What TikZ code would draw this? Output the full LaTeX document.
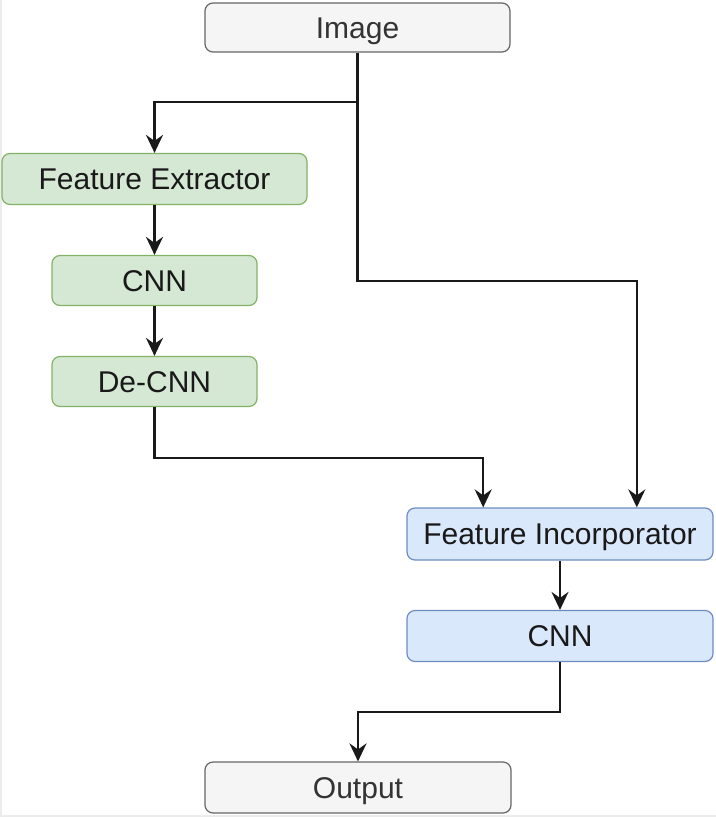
\documentclass[tikz,border=0pt]{standalone}
\usepackage{fontspec}
\setmainfont{Liberation Sans}
\usetikzlibrary{arrows.meta,calc}
\definecolor{grayfill}{HTML}{F5F5F5}
\definecolor{graydraw}{HTML}{666666}
\definecolor{greenfill}{HTML}{D5E8D4}
\definecolor{greendraw}{HTML}{82B366}
\definecolor{bluefill}{HTML}{DAE8FC}
\definecolor{bluedraw}{HTML}{6C8EBF}
\definecolor{txtgray}{HTML}{333333}
\begin{document}
\begin{tikzpicture}[x=0.5pt,y=-0.5pt,
  box/.style={rectangle, rounded corners=4pt, line width=0.6pt, inner sep=0pt,
    font=\fontsize{15}{18}\selectfont, text=black!90, text height=10.7pt, text depth=0pt},
  graybox/.style={box, fill=grayfill, draw=graydraw, text=txtgray},
  greenbox/.style={box, fill=greenfill, draw=greendraw},
  bluebox/.style={box, fill=bluefill, draw=bluedraw},
  arr/.style={draw=black!90, line width=1.1pt, -{Stealth[length=9pt,width=8.5pt,inset=3pt]}},
  ln/.style={draw=black!90, line width=1.1pt}]
\useasboundingbox (0,0) rectangle (716,818);
\fill[white] (0,0) rectangle (716,818);
\draw[gray!15, line width=0.8pt] (1,0) -- (1,816) -- (716,816);

\node[graybox, minimum width=152.5pt, minimum height=24.5pt] (img) at (357.5,27.5) {Image};
\node[greenbox, minimum width=152.5pt, minimum height=25.5pt] (fe) at (154.5,179) {Feature Extractor};
\node[greenbox, minimum width=102.5pt, minimum height=25pt] (cnn1) at (154.5,280.5) {CNN};
\node[greenbox, minimum width=102.5pt, minimum height=25pt] (decnn) at (154.5,381.5) {De-CNN};
\node[bluebox, minimum width=153pt, minimum height=26pt] (fi) at (560,534) {Feature Incorporator};
\node[bluebox, minimum width=153pt, minimum height=25.5pt] (cnn2) at (560,636) {CNN};
\node[graybox, minimum width=153pt, minimum height=25.5pt] (out) at (358,787.5) {Output};

\coordinate (j1) at (img.south |- 0,102);
\coordinate (j2) at (img.south |- 0,281);
\coordinate (fiR) at ($(fi.north west)!0.75!(fi.north east)$);
\coordinate (fiL) at ($(fi.north west)!0.25!(fi.north east)$);
\coordinate (j3) at (decnn.south |- 0,458);
\coordinate (j4) at (cnn2.south |- 0,712);

\draw[ln] (img.south) -- (j1);
\draw[arr] (j1) -| (fe.north);
\draw[arr] (j1) -- (j2) -| (fiR);
\draw[arr] (fe) -- (cnn1);
\draw[arr] (cnn1) -- (decnn);
\draw[arr] (decnn.south) -- (j3) -| (fiL);
\draw[arr] (fi) -- (cnn2);
\draw[arr] (cnn2.south) -- (j4) -| (out.north);
\end{tikzpicture}
\end{document}
